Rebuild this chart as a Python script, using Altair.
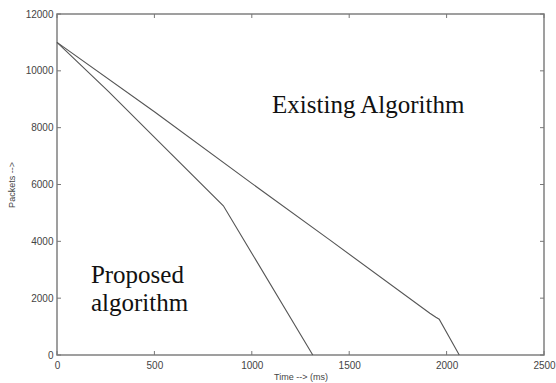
import altair as alt
import pandas as pd

# Data
proposed_t = [0, 265, 480, 854, 1313]
proposed_p = [11000, 9270, 7800, 5250, 0]

existing_t = [0, 500, 1000, 1400, 1914, 1945, 1962, 2065]
existing_p = [11000, 8560, 6040, 4050, 1470, 1330, 1260, 0]

x_ticks = [0, 500, 1000, 1500, 2000, 2500]
y_ticks = [0, 2000, 4000, 6000, 8000, 10000, 12000]

W, H = 487, 341

df = pd.concat([
    pd.DataFrame({"t": proposed_t, "p": proposed_p, "s": "Proposed", "o": range(len(proposed_t))}),
    pd.DataFrame({"t": existing_t, "p": existing_p, "s": "Existing", "o": range(len(existing_t))}),
])
xt = pd.DataFrame({"v": x_ticks})
yt = pd.DataFrame({"v": y_ticks})

xs = alt.Scale(domain=[0, 2500], nice=False)
ys = alt.Scale(domain=[0, 12000], nice=False)

gray_txt = "#444444"
axis_font = "Liberation Sans"

lines = alt.Chart(df).mark_line(color="#555555", strokeWidth=1.1).encode(
    x=alt.X("t:Q", scale=xs,
            axis=alt.Axis(values=x_ticks, format="d", ticks=False, domain=False, grid=False,
                          title="Time --> (ms)", titleFont=axis_font, titleFontSize=9,
                          titleFontWeight="normal", titleColor=gray_txt, titlePadding=2,
                          labelFont=axis_font, labelFontSize=10, labelColor=gray_txt,
                          labelPadding=5, labelFlush=False)),
    y=alt.Y("p:Q", scale=ys,
            axis=alt.Axis(values=y_ticks, format="d", ticks=False, domain=False, grid=False,
                          title="Packets -->", titleFont=axis_font, titleFontSize=9,
                          titleFontWeight="normal", titleColor=gray_txt, titlePadding=9,
                          labelFont=axis_font, labelFontSize=10, labelColor=gray_txt,
                          labelPadding=4, labelFlush=False)),
    detail="s:N",
    order="o:Q",
)

tick_color = "#777777"
bottom_ticks = alt.Chart(xt).mark_rule(color=tick_color, strokeWidth=1).encode(
    x=alt.X("v:Q", scale=xs), y=alt.value(H), y2=alt.value(H - 4))
top_ticks = alt.Chart(xt).mark_rule(color=tick_color, strokeWidth=1).encode(
    x=alt.X("v:Q", scale=xs), y=alt.value(0), y2=alt.value(4))
left_ticks = alt.Chart(yt).mark_rule(color=tick_color, strokeWidth=1).encode(
    y=alt.Y("v:Q", scale=ys), x=alt.value(0), x2=alt.value(4))
right_ticks = alt.Chart(yt).mark_rule(color=tick_color, strokeWidth=1).encode(
    y=alt.Y("v:Q", scale=ys), x=alt.value(W), x2=alt.value(W - 4))

txt_style = dict(font="Liberation Serif", fontSize=25, color="#111111",
                 align="left", baseline="alphabetic")
t_exist = alt.Chart().mark_text(**txt_style, text="Existing Algorithm").encode(
    x=alt.datum(1104, scale=xs), y=alt.datum(8520, scale=ys))
t_prop1 = alt.Chart().mark_text(**txt_style, text="Proposed").encode(
    x=alt.datum(174, scale=xs), y=alt.datum(2546, scale=ys))
t_prop2 = alt.Chart().mark_text(**txt_style, text="algorithm").encode(
    x=alt.datum(174, scale=xs), y=alt.datum(1549, scale=ys))

chart = alt.layer(
    lines, bottom_ticks, top_ticks, left_ticks, right_ticks, t_exist, t_prop1, t_prop2
).properties(
    width=W, height=H,
    autosize=alt.AutoSizeParams(type="none"),
    padding={"left": 57, "top": 14, "right": 12, "bottom": 28},
    background="white",
).configure_view(
    stroke="#808080", strokeWidth=1.5
)

chart.save("out.html", embed_options={"renderer": "svg", "actions": False})
